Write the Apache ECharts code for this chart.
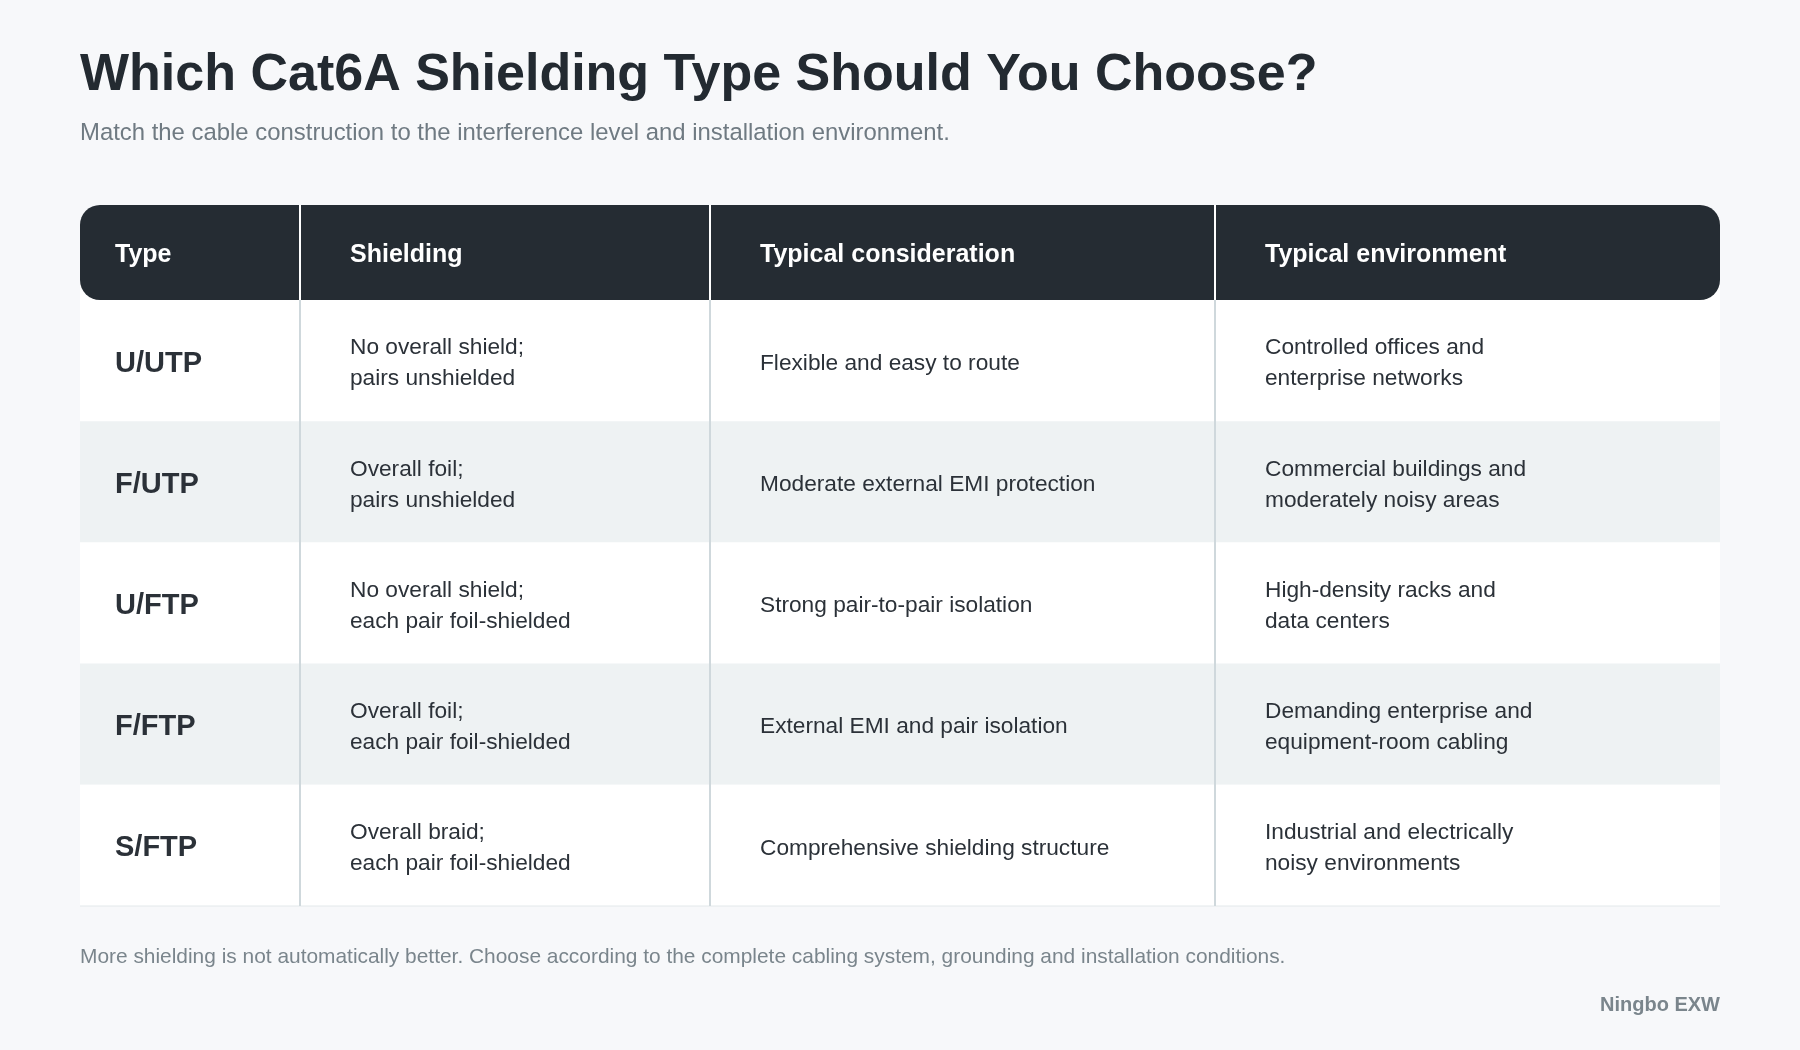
<!DOCTYPE html>
<html><head><meta charset="utf-8">
<script src="https://cdn.jsdelivr.net/npm/echarts@6/dist/echarts.min.js"></script>
<style>html,body{margin:0;padding:0;background:#f7f8fa}#c{width:1800px;height:1050px}</style>
</head><body><div id="c"></div>
<script>
const headers = ["Type","Shielding","Typical consideration","Typical environment"];
const types = ["U/UTP","F/UTP","U/FTP","F/FTP","S/FTP"];
const shielding = ["No overall shield;\npairs unshielded","Overall foil;\npairs unshielded","No overall shield;\neach pair foil-shielded","Overall foil;\neach pair foil-shielded","Overall braid;\neach pair foil-shielded"];
const consideration = ["Flexible and easy to route","Moderate external EMI protection","Strong pair-to-pair isolation","External EMI and pair isolation","Comprehensive shielding structure"];
const environment = ["Controlled offices and\nenterprise networks","Commercial buildings and\nmoderately noisy areas","High-density racks and\ndata centers","Demanding enterprise and\nequipment-room cabling","Industrial and electrically\nnoisy environments"];

const F = "Helvetica, Arial, 'Liberation Sans', sans-serif";
const L = 80, R = 1720, HT = 205, HB = 300, RH = 121.2;
const colX = [80, 300, 710, 1215, 1720];
const textX = [115, 350, 760, 1265];
const g = [];
g.push({type:'text',left:80,top:50,style:{text:"Which Cat6A Shielding Type Should You Choose?",font:"bold 52px "+F,fill:"#232a31"}});
g.push({type:'text',left:80,top:121,style:{text:"Match the cable construction to the interference level and installation environment.",font:"23.9px "+F,fill:"#6f7a82"}});
const cols = [types, shielding, consideration, environment];
const bottom = HB + RH*types.length;
g.push({type:'rect',shape:{x:L,y:HB-20,width:R-L,height:bottom-HB+20},style:{fill:"#ffffff"}});
types.forEach((t,i)=>{
  const y = HB + RH*i;
  g.push({type:'rect',shape:{x:L,y:y,width:R-L,height:RH},style:{fill:i%2?"#eef2f3":"#ffffff"}});
  cols.forEach((arr,j)=>{
    g.push({type:'text',x:textX[j],y:y+RH/2+3,style:{text:arr[i],font:(j===0?"bold 29px ":"22.7px ")+F,fill:"#2b3138",verticalAlign:'middle',lineHeight:31}});
  });
});
g.push({type:'line',shape:{x1:L,y1:bottom,x2:R,y2:bottom},style:{stroke:"#e3e8ea",lineWidth:1}});
g.push({type:'rect',shape:{x:L,y:HT,width:R-L,height:HB-HT,r:20},style:{fill:"#252c33"}});
for(let j=1;j<4;j++){
  g.push({type:'line',shape:{x1:colX[j],y1:HT,x2:colX[j],y2:HB},style:{stroke:"#ffffff",lineWidth:2}});
  g.push({type:'line',shape:{x1:colX[j],y1:HB,x2:colX[j],y2:bottom},style:{stroke:"#cfd8dc",lineWidth:2}});
}
headers.forEach((h,j)=>{
  g.push({type:'text',x:textX[j],y:(HT+HB)/2+3,style:{text:h,font:"bold 25px "+F,fill:"#ffffff",verticalAlign:'middle'}});
});
g.push({type:'text',left:80,top:947,style:{text:"More shielding is not automatically better. Choose according to the complete cabling system, grounding and installation conditions.",font:"20.9px "+F,fill:"#7a858c"}});
g.push({type:'text',right:80,top:995,style:{text:"Ningbo EXW",font:"bold 20px "+F,fill:"#7a858c"}});
const chart = echarts.init(document.getElementById('c'));
chart.setOption({backgroundColor:"#f7f8fa",graphic:g});
</script></body></html>
